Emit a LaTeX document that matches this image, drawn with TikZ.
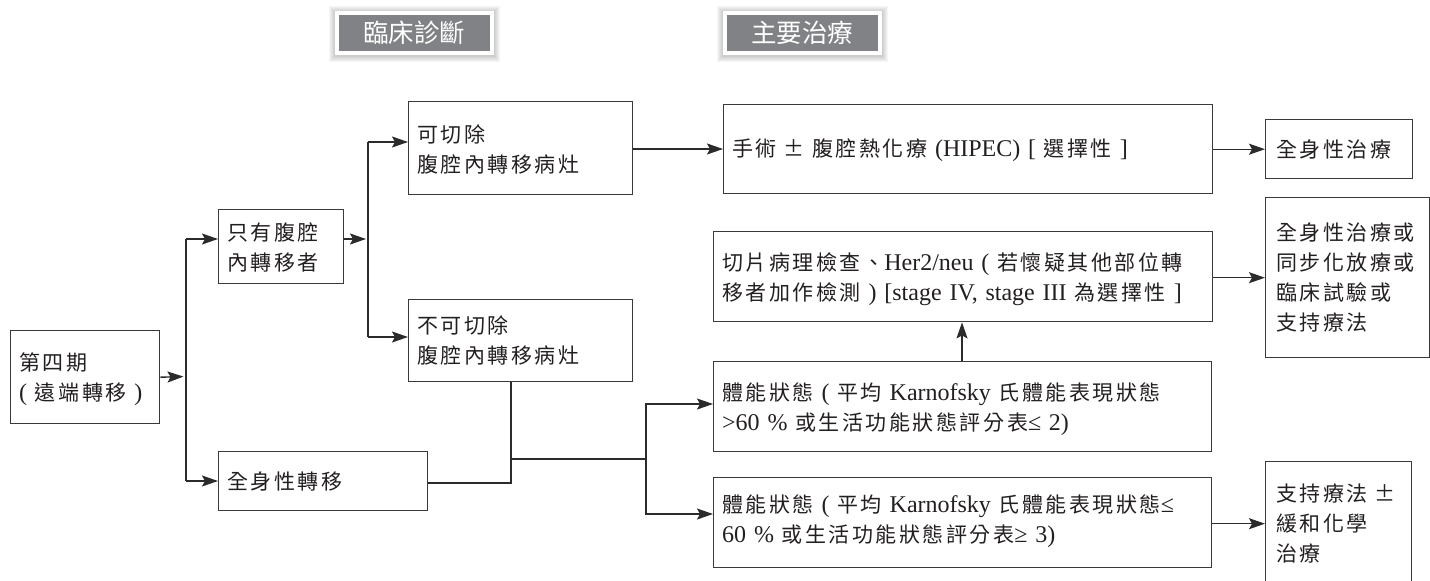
\documentclass[tikz,border=0pt]{standalone}
\usepackage{fontspec}
\setmainfont[WordSpace=1.3]{Liberation Serif}
\newfontfamily\zh[LetterSpace=12]{Noto Sans CJK TC}
\newfontfamily\zhh{Noto Sans CJK TC}
\usetikzlibrary{arrows.meta}
\definecolor{linec}{HTML}{2B2B2B}
\definecolor{boxc}{HTML}{3A3A3A}
\definecolor{textc}{HTML}{231F20}
\definecolor{hdrgray}{HTML}{808285}
\newcommand\z[1]{{\zh\fontsize{21}{30}\selectfont #1}}
\tikzset{
  box/.style={draw=boxc, line width=1.4pt, anchor=north west, inner sep=0pt},
  txt/.style={anchor=west, inner sep=0pt, align=left, text=textc, font=\fontsize{24}{30}\selectfont},
  hdr/.style={fill=hdrgray, draw=white, line width=4pt, minimum width=155pt, minimum height=40pt, inner sep=0pt, text=white, font=\zhh\fontsize{25.5}{25}\selectfont},
  ln/.style={draw=linec, line width=1.4pt},
  arr/.style={draw=linec, line width=1.4pt, -{Stealth[length=16pt,width=11pt,inset=3pt]}}
}
\begin{document}
\begin{tikzpicture}[x=1pt,y=-1pt]
\useasboundingbox (0,0) rectangle (1430,581);
% header shadows
\foreach \i in {1,...,6}{
  \fill[black, opacity=0.035] (335-\i,11-\i+1) rectangle (493+\i+1,55+\i+1);
  \fill[black, opacity=0.035] (723-\i,11-\i+1) rectangle (881+\i+1,55+\i+1);
}
\node[hdr] (h1) at (414,33) {臨床診斷};
\node[hdr] (h2) at (802,33) {主要治療};

% boxes
\node[box, minimum width=149pt, minimum height=93pt] (b4) at (10,330) {};
\node[box, minimum width=125pt, minimum height=74pt] (only) at (218,209) {};
\node[box, minimum width=209pt, minimum height=59pt] (sys) at (218,451) {};
\node[box, minimum width=224pt, minimum height=93pt] (res) at (408,101) {};
\node[box, minimum width=224pt, minimum height=82pt] (unres) at (408,299) {};
\node[box, minimum width=489pt, minimum height=89pt] (surg) at (723,104) {};
\node[box, minimum width=499pt, minimum height=90pt] (bio) at (713,231) {};
\node[box, minimum width=498pt, minimum height=90pt] (ps1) at (713,361) {};
\node[box, minimum width=498pt, minimum height=90pt] (ps2) at (713,477) {};
\node[box, minimum width=147pt, minimum height=59pt] (st) at (1265,119) {};
\node[box, minimum width=164pt, minimum height=160pt] (multi) at (1265,197) {};
\node[box, minimum width=146pt, minimum height=124pt] (supp) at (1265,461) {};

% texts
\node[txt] (tb4) at ([xshift=9pt,yshift=-2pt]b4.west) {\z{第四期}\\( \z{遠端轉移} )};
\node[txt] (tonly) at ([xshift=9pt,yshift=-1pt]only.west) {\z{只有腹腔}\\\z{內轉移者}};
\node[txt] (tsys) at ([xshift=9pt]sys.west) {\z{全身性轉移}};
\node[txt] (tres) at ([xshift=9pt,yshift=-1pt]res.west) {\z{可切除}\\\z{腹腔內轉移病灶}};
\node[txt] (tunres) at ([xshift=9pt]unres.west) {\z{不可切除}\\\z{腹腔內轉移病灶}};
\node[txt] (tsurg) at ([xshift=9pt,yshift=-1pt]surg.west) {\z{手術 ± 腹腔熱化療} (HIPEC) [ \z{選擇性} ]};
\node[txt] (tbio) at ([xshift=9pt,yshift=-2pt]bio.west) {\z{切片病理檢查、}Her2/neu ( \z{若懷疑其他部位轉}\\\z{移者加作檢測} ) [stage IV, stage III \z{為選擇性} ]};
\node[txt] (tps1) at ([xshift=9pt,yshift=-2pt]ps1.west) {\z{體能狀態} ( \z{平均} Karnofsky \z{氏體能表現狀態}\\>60 \% \z{或生活功能狀態評分表}≤ 2)};
\node[txt] (tps2) at ([xshift=9pt,yshift=2pt]ps2.west) {\z{體能狀態} ( \z{平均} Karnofsky \z{氏體能表現狀態}≤\\60 \% \z{或生活功能狀態評分表}≥ 3)};
\node[txt] (tst) at ([xshift=11pt]st.west) {\z{全身性治療}};
\node[txt] (tmulti) at ([xshift=11pt]multi.west) {\z{全身性治療或}\\\z{同步化放療或}\\\z{臨床試驗或}\\\z{支持療法}};
\node[txt] (tsupp) at ([xshift=11pt]supp.west) {\z{支持療法 ±}\\\z{緩和化學}\\\z{治療}};

% connectors
\coordinate (bA) at (186,376.5);
\coordinate (bTop) at (186,239);
\coordinate (bBot) at (186,481);
\draw[arr, shorten >=2.5pt] (b4.east) -- (bA);
\draw[ln] (bTop) -- (bBot);
\draw[arr] (bTop) -- (bTop -| only.west);
\draw[arr] (bBot) -- (bBot -| sys.west);

\coordinate (cA) at (368,239);
\coordinate (cTop) at (368,142);
\coordinate (cBot) at (368,337);
\draw[arr, shorten >=2pt] (only.east |- cA) -- (cA);
\draw[ln] (cTop) -- (cBot);
\draw[arr] (cTop) -- (cTop -| res.west);
\draw[arr] (cBot) -- (cBot -| unres.west);

\coordinate (r1) at (0,149);
\draw[arr] (res.east |- r1) -- (surg.west |- r1);
\draw[arr] (surg.east |- st.west) -- (st.west);
\draw[arr] (bio.east |- multi.west) -- (multi.west);
\coordinate (u) at (962,0);
\draw[arr] (ps1.north -| u) -- (bio.south -| u);
\draw[arr] (ps2.east |- supp.west) -- (supp.west);

\coordinate (j1) at (511,459);
\coordinate (j2) at (646,459);
\coordinate (k1) at (0,404);
\coordinate (k2) at (0,514);
\draw[ln] (sys.east |- 0,483) -| (unres.south -| j1);
\draw[ln] (j1) -- (j2);
\draw[arr] (j2) |- (ps1.west |- k1);
\draw[arr] (j2) |- (ps2.west |- k2);
\end{tikzpicture}
\end{document}
